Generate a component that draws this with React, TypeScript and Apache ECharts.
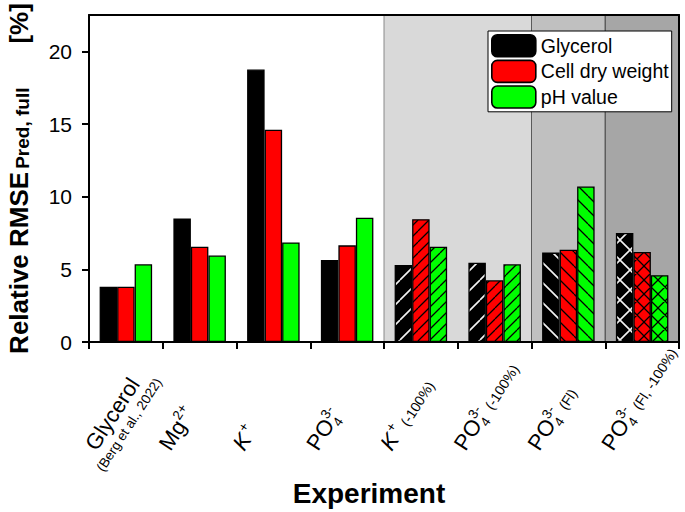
import React, { useEffect, useRef } from 'react';
import * as echarts from 'echarts';

const FONT = '"Liberation Sans", Arial, Helvetica, sans-serif';

const categories = [
  'Glycerol (Berg et al., 2022)',
  'Mg2+',
  'K+',
  'PO4 3-',
  'K+ (-100%)',
  'PO4 3- (-100%)',
  'PO4 3- (Fl)',
  'PO4 3- (Fl, -100%)',
];
const seriesNames = ['Glycerol', 'Cell dry weight', 'pH value'];
const glycerol = [3.8, 8.5, 18.75, 5.65, 5.3, 5.45, 6.15, 7.5];
const cellDryWeight = [3.8, 6.55, 14.6, 6.65, 8.45, 4.25, 6.35, 6.2];
const phValue = [5.35, 5.95, 6.85, 8.55, 6.55, 5.35, 10.7, 4.6];
const yTicks = [0, 5, 10, 15, 20];
const hatchKinds = ['none', 'none', 'none', 'none', 'fwd', 'fwd', 'back', 'cross'];

type LabelPart = { base: string; italic?: boolean; sub?: string; sup?: string; suffix?: string; line2?: string };
const labelParts: LabelPart[] = [
  { base: 'Glycerol', line2: '(Berg et al., 2022)' },
  { base: 'Mg', sup: '2+' },
  { base: 'K', italic: true, sup: '+' },
  { base: 'PO', sub: '4', sup: '3-' },
  { base: 'K', italic: true, sup: '+', suffix: '(-100%)' },
  { base: 'PO', sub: '4', sup: '3-', suffix: '(-100%)' },
  { base: 'PO', sub: '4', sup: '3-', suffix: '(Fl)' },
  { base: 'PO', sub: '4', sup: '3-', suffix: '(Fl, -100%)' },
];

// background bands in category-index units
const bandFrom = [4, 6, 7];
const bandTo = [6, 7, 8];
const bandColors = ['#d9d9d9', '#c0c0c0', '#a6a6a6'];
const bandBorders = ['#8a8a8a', '#5a5a5a', '#4a4a4a'];

const barColors = ['#000000', '#ff0000', '#00ff00'];

function makeHatch(bg: string, line: string, period: number, kind: string, lw: number) {
  const c = document.createElement('canvas');
  c.width = period;
  c.height = period;
  const ctx = c.getContext('2d')!;
  ctx.fillStyle = bg;
  ctx.fillRect(0, 0, period, period);
  ctx.strokeStyle = line;
  ctx.lineWidth = lw;
  ctx.beginPath();
  for (let k = -1; k <= 1; k++) {
    if (kind === 'fwd' || kind === 'cross') {
      ctx.moveTo(k * period, period);
      ctx.lineTo(k * period + period, 0);
    }
    if (kind === 'back' || kind === 'cross') {
      ctx.moveTo(k * period, 0);
      ctx.lineTo(k * period + period, period);
    }
  }
  ctx.stroke();
  return { image: c.toDataURL(), repeat: 'repeat', imageWidth: period, imageHeight: period };
}

function measure(text: string, font: string) {
  const c = document.createElement('canvas');
  const ctx = c.getContext('2d')!;
  ctx.font = font;
  return ctx.measureText(text).width;
}

export default function App() {
  const ref = useRef<HTMLDivElement>(null);
  useEffect(() => {
    const chart = echarts.init(ref.current!, null, { renderer: 'svg' });

    const patternFor = (si: number, kind: string) => {
      if (kind === 'none') return undefined;
      const isBlack = si === 0;
      const period = isBlack ? 20 : kind === 'fwd' ? 11 : 14;
      return makeHatch(barColors[si], isBlack ? '#f2f2f2' : '#000000', period, kind, isBlack ? 1.6 : 1.3);
    };

    const allValues = [glycerol, cellDryWeight, phValue];
    const barSeries = allValues.map((vals, si) => ({
      name: seriesNames[si],
      type: 'bar',
      xAxisIndex: 0,
      yAxisIndex: 0,
      barWidth: 17.5,
      barGap: '0%',
      z: 3,
      itemStyle: { color: barColors[si], borderColor: '#000', borderWidth: 1.3 },
      data: vals.map((v, i) => {
        const p = patternFor(si, hatchKinds[i]);
        return p ? { value: v, itemStyle: { color: p } } : { value: v };
      }),
    }));

    const option: any = {
      animation: false,
      grid: { left: 89, right: 6, top: 15, bottom: 170, containLabel: false, outerBoundsMode: 'none' },
      legend: {
        data: seriesNames,
        orient: 'vertical',
        left: 488,
        top: 31,
        itemWidth: 44,
        itemHeight: 22,
        itemGap: 2,
        padding: 3,
        borderColor: '#000',
        borderWidth: 1,
        backgroundColor: '#fff',
        borderRadius: 0,
        itemStyle: { borderColor: '#000', borderWidth: 1.6 },
        textStyle: { fontSize: 19.5, color: '#000', fontFamily: FONT },
        z: 20,
      },
      xAxis: [
        {
          type: 'category',
          data: categories,
          position: 'bottom',
          z: 10,
          axisLine: { lineStyle: { color: '#000', width: 2 } },
          axisTick: { show: true, length: 7, interval: 0, alignWithLabel: false, lineStyle: { color: '#000', width: 2 } },
          axisLabel: { show: false },
          splitLine: { show: false },
          name: 'Experiment',
          nameLocation: 'middle',
          nameGap: 137,
          nameTextStyle: { fontSize: 28, fontWeight: 'bold', color: '#000', fontFamily: FONT, padding: [0, 30, 0, 0] },
        },
        {
          type: 'value',
          min: 0,
          max: 8,
          position: 'top',
          z: 10,
          axisLine: { show: true, onZero: false, lineStyle: { color: '#000', width: 2 } },
          axisTick: { show: false },
          axisLabel: { show: false },
          splitLine: { show: false },
        },
      ],
      yAxis: [
        {
          type: 'value',
          min: 0,
          max: 22.5,
          interval: 5,
          z: 10,
          axisLine: { show: true, lineStyle: { color: '#000', width: 2 } },
          axisTick: { show: true, length: 7, customValues: yTicks, lineStyle: { color: '#000', width: 2 } },
          axisLabel: { customValues: yTicks, margin: 17, fontSize: 21, color: '#000', fontFamily: FONT },
          splitLine: { show: false },
          name: '{a|Relative RMSE}{b|Pred, full}{c|[%]}',
          nameLocation: 'middle',
          nameRotate: 90,
          nameGap: 57,
          nameTextStyle: {
            rich: {
              a: { fontSize: 26, fontWeight: 'bold', color: '#000', fontFamily: FONT, lineHeight: 30, verticalAlign: 'bottom' },
              b: { fontSize: 19, fontWeight: 'bold', color: '#000', fontFamily: FONT, lineHeight: 19, verticalAlign: 'bottom', padding: [0, 0, 0, 3] },
              c: { fontSize: 26, fontWeight: 'bold', color: '#000', fontFamily: FONT, lineHeight: 30, verticalAlign: 'bottom', padding: [0, 0, 0, 44] },
            },
          },
        },
        {
          type: 'value',
          min: 0,
          max: 22.5,
          position: 'right',
          z: 10,
          axisLine: { show: true, lineStyle: { color: '#000', width: 2 } },
          axisTick: { show: false },
          axisLabel: { show: false },
          splitLine: { show: false },
        },
      ],
      series: [
        {
          type: 'line',
          name: 'bands',
          xAxisIndex: 1,
          yAxisIndex: 0,
          data: [],
          z: 1,
          silent: true,
          markArea: {
            silent: true,
            data: bandFrom.map((f, i) => [
              { xAxis: f, itemStyle: { color: bandColors[i], borderColor: bandBorders[i], borderWidth: 1 } },
              { xAxis: bandTo[i] },
            ]),
          },
        },
        ...barSeries,
      ],
    };
    chart.setOption(option);

    // category labels, rotated, positioned from axis scale
    const y0 = chart.convertToPixel({ yAxisIndex: 0 }, 0) as number;
    const angle = (57 * Math.PI) / 180;
    const mainSize = 22;
    const smallSize = 13.5;
    const sufSize = 14;
    const mk = (text: string, x: number, baseline: number, size: number, italic = false) => ({
      type: 'text',
      x,
      y: baseline - 0.35 * size,
      style: {
        text,
        fontSize: size,
        fontFamily: FONT,
        fontStyle: italic ? 'italic' : 'normal',
        fill: '#000',
        align: 'left',
        verticalAlign: 'middle',
      },
    });
    const elements = labelParts.map((lp, i) => {
      const cx = chart.convertToPixel({ xAxisIndex: 0 }, categories[i]) as number;
      const children: any[] = [];
      const mainFont = `${lp.italic ? 'italic ' : ''}${mainSize}px ${FONT}`;
      const wMain = measure(lp.base, mainFont);
      children.push(mk(lp.base, 0, 0, mainSize, !!lp.italic));
      let end = wMain;
      const scriptX = wMain + (lp.italic ? 2 : 0.5);
      if (lp.sub) {
        children.push(mk(lp.sub, scriptX, 5, smallSize));
        end = Math.max(end, scriptX + measure(lp.sub, `${smallSize}px ${FONT}`));
      }
      if (lp.sup) {
        children.push(mk(lp.sup, scriptX, -9.5, smallSize));
        end = Math.max(end, scriptX + measure(lp.sup, `${smallSize}px ${FONT}`));
      }
      if (lp.suffix) {
        children.push(mk(lp.suffix, end + 5, 0, sufSize));
      }
      if (lp.line2) {
        const w2 = measure(lp.line2, `${smallSize}px ${FONT}`);
        children.push(mk(lp.line2, (wMain - w2) / 2, 17, smallSize));
      }
      return {
        type: 'group',
        x: cx - 29,
        y: y0 + 110,
        rotation: angle,
        children,
      };
    });
    chart.setOption({ graphic: { elements } });

    return () => chart.dispose();
  }, []);
  return <div ref={ref} style={{ position: 'absolute', left: 0, top: 0, width: 685, height: 512 }} />;
}
